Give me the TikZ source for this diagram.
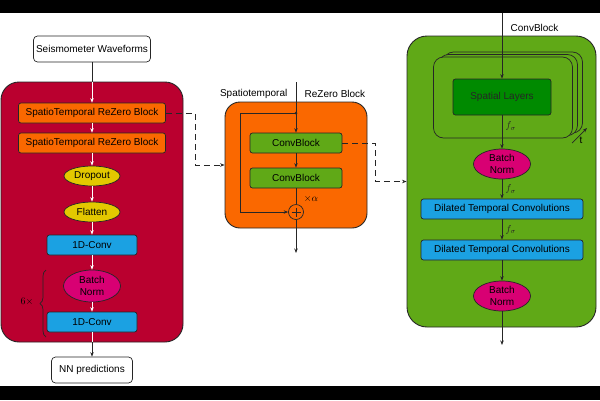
\documentclass[tikz,border=0pt]{standalone}
\usepackage{fontspec}
\setmainfont{Liberation Sans}
\usepackage{amsmath}
\usetikzlibrary{arrows.meta,shapes.geometric,decorations.pathreplacing}
\definecolor{Crimson}{HTML}{BA002F}
\definecolor{DOrange}{HTML}{FA6800}
\definecolor{DYellow}{HTML}{E3C800}
\definecolor{DBlue}{HTML}{1BA1E2}
\definecolor{DMagenta}{HTML}{D80073}
\definecolor{DGreen}{HTML}{60A917}
\definecolor{DarkGreen}{HTML}{008A00}

\begin{document}
\begin{tikzpicture}[x=1pt,y=-1pt,
    >={Stealth[length=4.5pt,width=3.5pt]},
    line width=0.7pt,
    box/.style={draw=black!85, rounded corners=2.5pt, inner sep=0pt, minimum height=20pt},
    oval/.style={draw=black!85, ellipse, inner sep=0pt, align=center},
    panel/.style={draw=black!85, line width=0.9pt, inner sep=0pt},
    flow/.style={->, black!85},
    wflow/.style={->, white},
    dashflow/.style={->, black!85, dash pattern=on 6pt off 4pt}]

        % letterbox
        \useasboundingbox (0,0) rectangle (600,400);
        \fill[black] (0,0) rectangle (600,13);
        \fill[black] (0,386) rectangle (600,400);

        % whole network
        \node[box, fill=white, minimum width=117pt, minimum height=26pt, rounded corners=4pt] (seis) at (92,49) {Seismometer Waveforms};
        \node[panel, fill=Crimson, rounded corners=18pt, minimum width=182pt, minimum height=260pt] (net) at (92,212) {};
        \node[box, fill=DOrange, minimum width=147pt] (st1) at (92,113) {SpatioTemporal ReZero Block};
        \node[box, fill=DOrange, minimum width=147pt] (st2) at (92,143) {SpatioTemporal ReZero Block};
        \node[oval, fill=DYellow, minimum width=56pt, minimum height=20pt] (drop) at (92,176) {Dropout};
        \node[oval, fill=DYellow, minimum width=56pt, minimum height=20pt] (flat) at (92,212) {Flatten};
        \node[box, fill=DBlue, minimum width=90pt] (conv1) at (92,245) {1D-Conv};
        \node[oval, fill=DMagenta, minimum width=57pt, minimum height=32pt] (bn1) at (92,286) {Batch\\Norm};
        \node[box, fill=DBlue, minimum width=90pt] (conv2) at (92,322) {1D-Conv};
        \node[box, fill=white, minimum width=81pt, minimum height=26pt, rounded corners=4pt] (nn) at (92,370) {NN predictions};

        \draw[black!85] (seis.south) -- (net.north);
        \draw[wflow] (net.north) -- (st1.north);
        \draw[wflow] (st1.south) -- (st2.north);
        \draw[wflow] (st2.south) -- (drop.north);
        \draw[wflow] (drop.south) -- (flat.north);
        \draw[wflow] (flat.south) -- (conv1.north);
        \draw[wflow] (conv1.south) -- (bn1.north);
        \draw[wflow] (bn1.south) -- (conv2.north);
        \draw[white] (conv2.south) -- (net.south);
        \draw[flow] (net.south) -- (nn.north);

        \draw[black!85, decorate, decoration={brace, amplitude=6pt}] (46,337) -- (46,270);
        \node (rep) at (27,302) {$6\times$};

        % rezero block
        \node[panel, fill=DOrange, rounded corners=15pt, minimum width=142pt, minimum height=126pt] (rz) at (296,165) {};
        \node[anchor=east] (rzl) at (291,94) {Spatiotemporal};
        \node[anchor=west] (rzr) at (301,94) {ReZero Block};
        \coordinate (rzin) at (296,82);
        \coordinate (split) at (296,113);
        \node[box, fill=DGreen, minimum width=92pt] (cb1) at (296,143) {ConvBlock};
        \node[box, fill=DGreen, minimum width=92pt] (cb2) at (296,178) {ConvBlock};
        \node[circle, draw=black!85, minimum size=15pt, inner sep=0pt] (add) at (296,212) {};
        \draw[black!85, line width=0.9pt] (add.center) +(-4.5,0) -- +(4.5,0) +(0,-4.5) -- +(0,4.5);
        \node (alpha) at (311,199) {$\times\alpha$};
        \coordinate (rzout) at (296,253);

        \draw[flow] (rzin) -- (cb1.north);
        \fill[black!85] (split) circle (1.5);
        \draw[flow] (split) -- ++(-56,0) |- (add.west);
        \draw[flow] (cb1.south) -- (cb2.north);
        \draw[black!85] (cb2.south) -- (add.north);
        \draw[flow] (add.south) -- (rzout);

        % conv block
        \node[panel, fill=DGreen, rounded corners=20pt, minimum width=189pt, minimum height=291pt] (cbk) at (501.5,181.5) {};
        \node[anchor=west] (cbl) at (507,28) {ConvBlock};
        \coordinate (cbin) at (502,13);
        \foreach \s in {2,1,0}
            \draw[black!85, fill=DGreen, rounded corners=10pt] (433.5+5*\s,57-2.5*\s) rectangle ++(139,81);
        \node[box, fill=DarkGreen, text=black!85, minimum width=98pt, minimum height=36pt] (sl) at (502,97) {Spatial Layers};
        \node[oval, fill=DMagenta, minimum width=57pt, minimum height=30pt] (bn2) at (502,164) {Batch\\Norm};
        \node[box, fill=DBlue, minimum width=162pt] (dil1) at (502,209) {Dilated Temporal Convolutions};
        \node[box, fill=DBlue, minimum width=162pt] (dil2) at (502,250) {Dilated Temporal Convolutions};
        \node[oval, fill=DMagenta, minimum width=57pt, minimum height=30pt] (bn3) at (502,296) {Batch\\Norm};
        \coordinate (cbout) at (502,345);

        \draw[flow] (cbin) -- (sl.north);
        \draw[flow] (sl.south) -- node[right, pos=0.32] {$f_\sigma$} (bn2.north);
        \draw[flow] (bn2.south) -- node[right] {$f_\sigma$} (dil1.north);
        \draw[flow] (dil1.south) -- node[right] {$f_\sigma$} (dil2.north);
        \draw[flow] (dil2.south) -- (bn3.north);
        \draw[flow] (bn3.south) -- (cbout);

        \coordinate (t0) at (572,143);
        \coordinate (t1) at (587,128);
        \draw[flow] (t0) -- (t1);
        \node (tlab) at (581,140) {t};

        % zoom links
        \draw[dashflow] (st1.east) -- ++(29,0) |- (rz.west);
        \draw[dashflow] (cb1.east) -- ++(33,0) |- (cbk.west);

\end{tikzpicture}
\end{document}
